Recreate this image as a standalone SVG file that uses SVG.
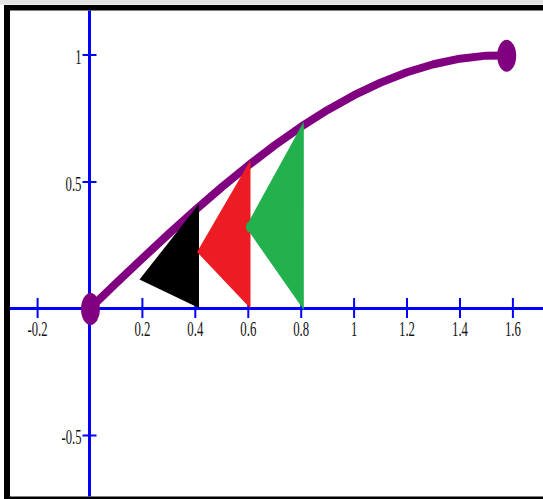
<svg xmlns="http://www.w3.org/2000/svg" width="543" height="499" viewBox="0 0 543 499">
<style>
.ax{stroke:#0000ff;stroke-width:3;fill:none}
.tk{stroke:#0000ff;stroke-width:2;fill:none}
.lb{font-family:"Liberation Serif","Times New Roman",serif;font-size:21px;fill:#111}
.xl{text-anchor:middle}
.yl{text-anchor:end}
.curve{stroke:#800080;stroke-width:8;fill:none;stroke-linejoin:round}
.dot{fill:#800080}
</style>
<rect x="0" y="0" width="543" height="499" fill="#ffffff"/>
<rect x="0" y="0" width="543" height="4.5" fill="#e2e2e2"/>
<g id="frame" fill="#000">
<rect x="4" y="5" width="539" height="5.5"/>
<rect x="4" y="5" width="6" height="494"/>
<rect x="4" y="496.5" width="539" height="2.5"/>
</g>
<g id="axes">
<line class="ax" x1="89.5" y1="10.5" x2="89.5" y2="496.5"/>
<line class="ax" x1="10" y1="308.6" x2="543" y2="308.6" stroke-width="3.5"/>
<g class="tk">
<line x1="37.6" y1="298" x2="37.6" y2="318"/>
<line x1="142.4" y1="298" x2="142.4" y2="318"/>
<line x1="195.3" y1="298" x2="195.3" y2="318"/>
<line x1="248.3" y1="298" x2="248.3" y2="318"/>
<line x1="301.2" y1="298" x2="301.2" y2="318"/>
<line x1="354.1" y1="298" x2="354.1" y2="318"/>
<line x1="407" y1="298" x2="407" y2="318"/>
<line x1="460" y1="298" x2="460" y2="318"/>
<line x1="512.9" y1="298" x2="512.9" y2="318"/>
<line x1="82.5" y1="55" x2="96.5" y2="55"/>
<line x1="82.5" y1="182" x2="96.5" y2="182"/>
<line x1="82.5" y1="435.5" x2="96.5" y2="435.5"/>
</g>
<g class="lb xl">
<text x="37.6" y="336" textLength="20" lengthAdjust="spacingAndGlyphs">-0.2</text>
<text x="142.4" y="336" textLength="16" lengthAdjust="spacingAndGlyphs">0.2</text>
<text x="195.3" y="336" textLength="16" lengthAdjust="spacingAndGlyphs">0.4</text>
<text x="248.3" y="336" textLength="16" lengthAdjust="spacingAndGlyphs">0.6</text>
<text x="301.2" y="336" textLength="16" lengthAdjust="spacingAndGlyphs">0.8</text>
<text x="354.1" y="336" textLength="6.3" lengthAdjust="spacingAndGlyphs">1</text>
<text x="407" y="336" textLength="16" lengthAdjust="spacingAndGlyphs">1.2</text>
<text x="460" y="336" textLength="16" lengthAdjust="spacingAndGlyphs">1.4</text>
<text x="512.9" y="336" textLength="16" lengthAdjust="spacingAndGlyphs">1.6</text>
</g>
<g class="lb yl">
<text x="81.5" y="63.5" textLength="6.3" lengthAdjust="spacingAndGlyphs">1</text>
<text x="81.5" y="190.5" textLength="16" lengthAdjust="spacingAndGlyphs">0.5</text>
<text x="81.5" y="444" textLength="20" lengthAdjust="spacingAndGlyphs">-0.5</text>
</g>
</g>
<g id="curve">
<polyline class="curve" points="89.5,308.8 115.96,283.46 142.42,258.38 168.88,233.8 195.34,209.97 221.8,187.12 248.26,165.49 274.72,145.3 301.18,126.73 327.64,109.99 354.1,95.23 380.56,82.61 407.02,72.25 433.48,64.25 459.94,58.69 486.4,55.64 506,55.5"/>
<ellipse class="dot" cx="90.5" cy="309" rx="9.5" ry="16"/>
<ellipse class="dot" cx="506.7" cy="55.8" rx="9.5" ry="16"/>
</g>
<g id="triangles">
<polygon id="tri-black" points="199,204 199,308 139.5,279.5" fill="#000000"/>
<polygon id="tri-red" points="250.5,160 250.5,308.5 197,252" fill="#ed1c24"/>
<polygon id="tri-green" points="303.8,121.5 303.8,310 245.8,227" fill="#22b14c"/>
<ellipse cx="249" cy="227" rx="3" ry="5" fill="#22b14c"/>
</g>
</svg>
